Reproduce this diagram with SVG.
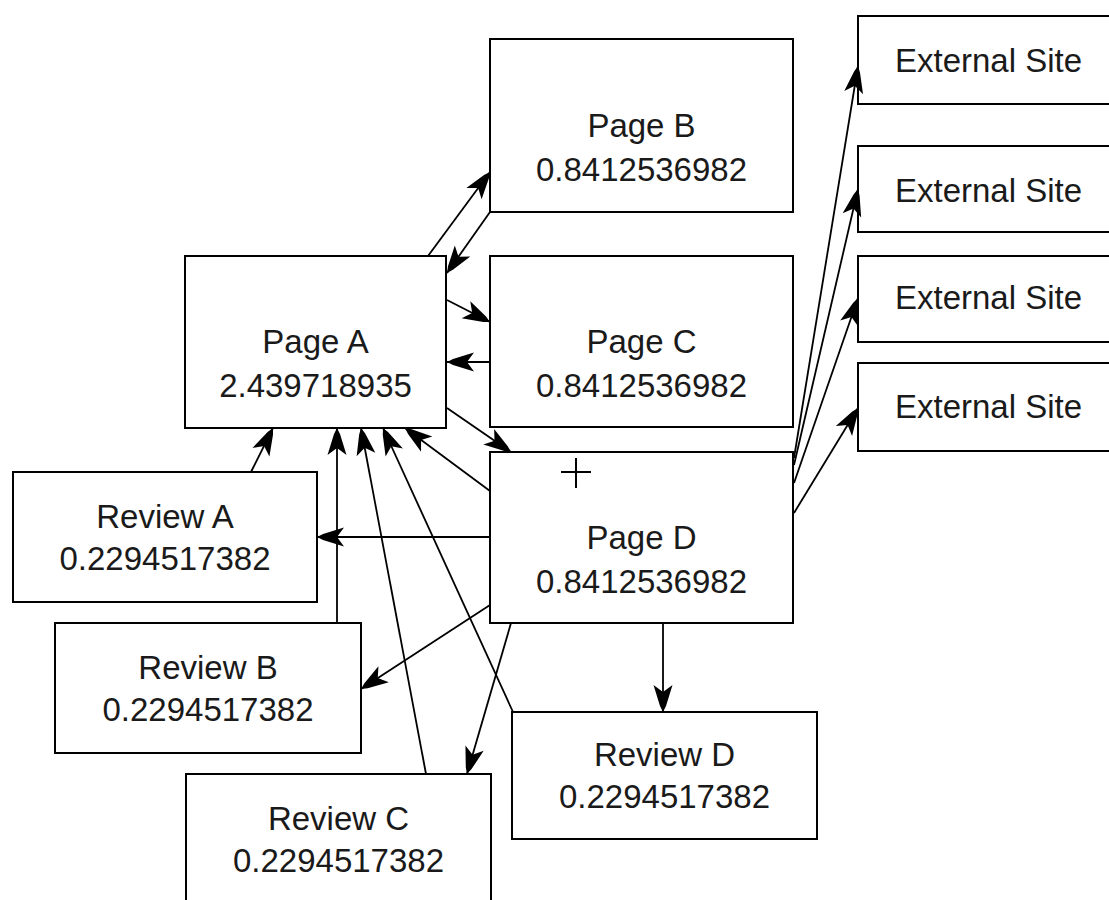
<svg xmlns="http://www.w3.org/2000/svg" width="1109" height="900" viewBox="0 0 1109 900">
  <style>
    .box { fill: #ffffff; stroke: #000000; stroke-width: 2; }
    .lbl { font-family: "Liberation Sans", Arial, sans-serif; font-size: 33px; fill: #1a1a1a; text-anchor: middle; }
    .link { fill: none; stroke: #000000; stroke-width: 1.8; marker-end: url(#arrow); }
    .cursor { stroke: #000000; stroke-width: 2; }
  </style>
  <defs>
    <marker id="arrow" markerUnits="userSpaceOnUse" markerWidth="32" markerHeight="24" viewBox="-30 -12 32 24" refX="0" refY="0" orient="auto">
      <path d="M0,0 L-6,-3 L-27,-9.5 L-20,0 L-27,9.5 L-6,3 Z" fill="#000000"/>
    </marker>
  </defs>

  <rect width="1109" height="900" fill="#ffffff"/>

  <!-- pages -->
  <g id="page-a">
    <rect class="box" x="185" y="256" width="261" height="172"/>
    <text class="lbl" x="315.5" y="353">Page A</text>
    <text class="lbl" x="315.5" y="397">2.439718935</text>
  </g>
  <g id="page-b">
    <rect class="box" x="490" y="39" width="303" height="173"/>
    <text class="lbl" x="641.5" y="137">Page B</text>
    <text class="lbl" x="641.5" y="181">0.8412536982</text>
  </g>
  <g id="page-c">
    <rect class="box" x="490" y="256" width="303" height="171"/>
    <text class="lbl" x="641.5" y="353">Page C</text>
    <text class="lbl" x="641.5" y="397">0.8412536982</text>
  </g>
  <g id="page-d">
    <rect class="box" x="490" y="452" width="303" height="171"/>
    <text class="lbl" x="641.5" y="549">Page D</text>
    <text class="lbl" x="641.5" y="593">0.8412536982</text>
  </g>

  <!-- reviews -->
  <g id="review-a">
    <rect class="box" x="13" y="472" width="304" height="130"/>
    <text class="lbl" x="165" y="528">Review A</text>
    <text class="lbl" x="165" y="570">0.2294517382</text>
  </g>
  <g id="review-b">
    <rect class="box" x="55" y="623" width="306" height="130"/>
    <text class="lbl" x="208" y="679">Review B</text>
    <text class="lbl" x="208" y="721">0.2294517382</text>
  </g>
  <g id="review-c">
    <rect class="box" x="186" y="774" width="305" height="130"/>
    <text class="lbl" x="338.5" y="830">Review C</text>
    <text class="lbl" x="338.5" y="872">0.2294517382</text>
  </g>
  <g id="review-d">
    <rect class="box" x="512" y="712" width="305" height="127"/>
    <text class="lbl" x="664.5" y="766">Review D</text>
    <text class="lbl" x="664.5" y="808">0.2294517382</text>
  </g>

  <!-- external sites -->
  <g id="external-1">
    <rect class="box" x="858" y="16" width="261" height="88"/>
    <text class="lbl" x="988.5" y="72">External Site</text>
  </g>
  <g id="external-2">
    <rect class="box" x="858" y="146" width="261" height="86"/>
    <text class="lbl" x="988.5" y="202">External Site</text>
  </g>
  <g id="external-3">
    <rect class="box" x="858" y="256" width="261" height="86"/>
    <text class="lbl" x="988.5" y="309">External Site</text>
  </g>
  <g id="external-4">
    <rect class="box" x="858" y="363" width="261" height="88"/>
    <text class="lbl" x="988.5" y="418">External Site</text>
  </g>

  <!-- links -->
  <g id="connectors">
    <line class="link" x1="428" y1="256" x2="490" y2="172"/>
    <line class="link" x1="490" y1="212" x2="447" y2="273"/>
    <line class="link" x1="447" y1="300" x2="490" y2="322"/>
    <line class="link" x1="490" y1="362" x2="447" y2="362"/>
    <line class="link" x1="447" y1="408" x2="511" y2="452"/>
    <line class="link" x1="251" y1="472" x2="273" y2="428"/>
    <line class="link" x1="337" y1="623" x2="337" y2="428"/>
    <line class="link" x1="426" y1="774" x2="361" y2="428"/>
    <line class="link" x1="513" y1="712" x2="383" y2="428"/>
    <line class="link" x1="490" y1="491" x2="405" y2="428"/>
    <line class="link" x1="490" y1="537" x2="317" y2="537"/>
    <line class="link" x1="490" y1="605" x2="361" y2="689"/>
    <line class="link" x1="511" y1="623" x2="467" y2="774"/>
    <line class="link" x1="663" y1="623" x2="663" y2="712"/>
    <line class="link" x1="794" y1="458" x2="858" y2="66"/>
    <line class="link" x1="794" y1="465" x2="858" y2="189"/>
    <line class="link" x1="794" y1="483" x2="858" y2="298"/>
    <line class="link" x1="794" y1="513" x2="858" y2="408"/>
  </g>

  <!-- pointer crosshair -->
  <g id="crosshair">
    <line class="cursor" x1="561" y1="472" x2="591" y2="472"/>
    <line class="cursor" x1="576" y1="458" x2="576" y2="488"/>
  </g>
</svg>
